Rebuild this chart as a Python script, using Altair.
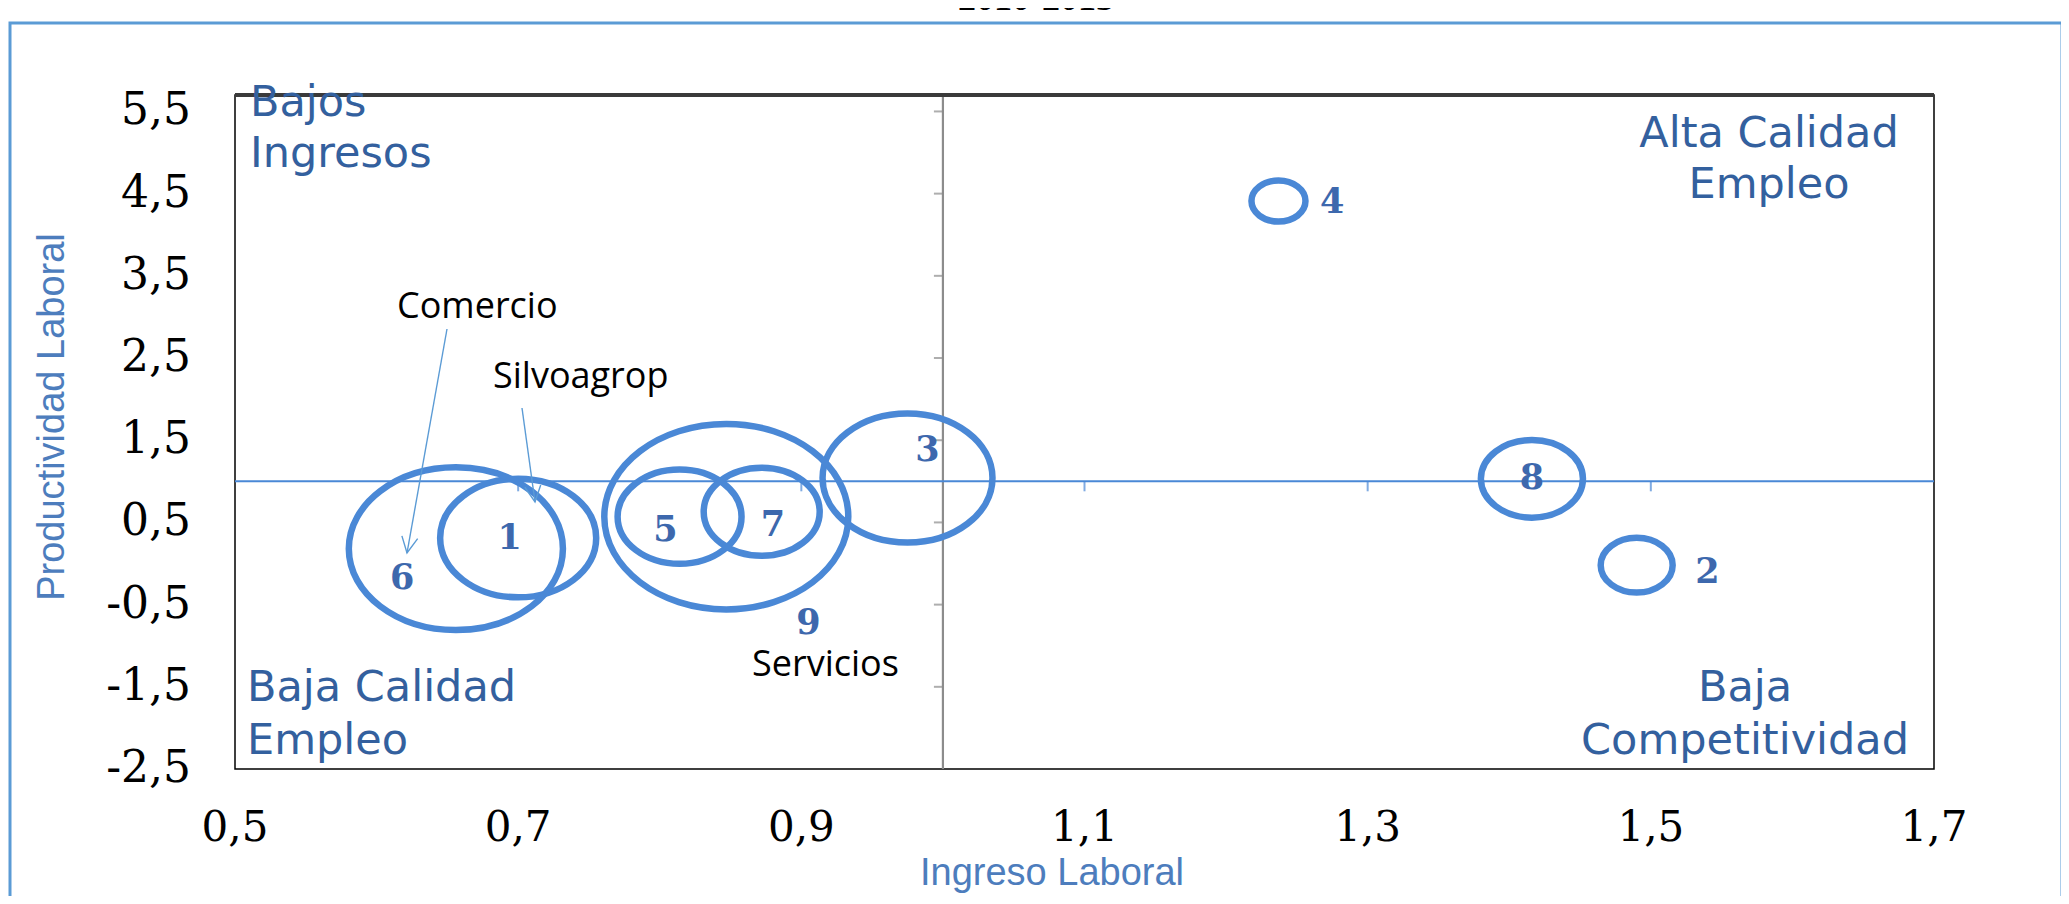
import altair as alt
import pandas as pd

# ---- data ----
sector = ["1", "2", "3", "4", "5", "6", "7", "8", "9"]
ingreso = [0.700, 1.490, 0.975, 1.237, 0.814, 0.656, 0.872, 1.416, 0.847]
productividad = [0.31, -0.02, 1.04, 4.41, 0.57, 0.18, 0.63, 1.03, 0.57]
tamano = [40.9, 8.7, 48.5, 4.9, 25.8, 77.0, 22.6, 17.5, 100.0]
etiqueta_x = [0.694, 1.540, 0.989, 1.275, 0.804, 0.618, 0.880, 1.416, 0.905]
etiqueta_y = [0.31, -0.10, 1.38, 4.40, 0.41, -0.18, 0.47, 1.04, -0.72]

x_ticks = [0.5, 0.7, 0.9, 1.1, 1.3, 1.5, 1.7]
y_ticks = [-2.5, -1.5, -0.5, 0.5, 1.5, 2.5, 3.5, 4.5, 5.5]
x_minor = [0.7, 0.9, 1.1, 1.3, 1.5]
y_minor = [-1.5, -0.5, 0.5, 1.5, 2.5, 3.5, 4.5, 5.5]
cruce = 1.0

df = pd.DataFrame({
    "sector": sector, "ingreso": ingreso, "productividad": productividad,
    "tamano": tamano, "lx": etiqueta_x, "ly": etiqueta_y,
})
df_xl = pd.DataFrame({"v": x_ticks, "lab": [str(v).replace(".", ",") for v in x_ticks]})
df_yl = pd.DataFrame({"v": y_ticks, "lab": [str(v).replace(".", ",") for v in y_ticks]})
df_vt = pd.DataFrame({"t": y_minor, "c": [cruce] * len(y_minor)})
df_ht = pd.DataFrame({"t": x_minor, "c": [cruce] * len(x_minor)})
df_c = pd.DataFrame({"v": [cruce]})

BLUE = "#4A88D6"
LBLUE = "#5B9BD5"
NUMC = "#3D68AD"
QC = "#33609E"
TITC = "#4D7DBD"

W, H = 1699, 674
ELLIPSE = ("M -1 0 C -1 -0.42 -0.552 -0.76 0 -0.76 C 0.552 -0.76 1 -0.42 1 0 "
           "C 1 0.42 0.552 0.76 0 0.76 C -0.552 0.76 -1 0.42 -1 0 Z")
ARROW = "M -0.5 -1 L 0 0 L 0.5 -1"

xscale = alt.Scale(domain=[0.5, 1.7], nice=False, zero=False)
yscale = alt.Scale(domain=[-2.5, 5.7], nice=False, zero=False)

bubbles = alt.Chart(df).mark_point(
    shape=ELLIPSE, filled=False, strokeWidth=6.5, color=BLUE, opacity=1
).encode(
    x=alt.X("ingreso:Q", scale=xscale, axis=None),
    y=alt.Y("productividad:Q", scale=yscale, axis=None),
    size=alt.Size("tamano:Q", scale=alt.Scale(domain=[0, 100], range=[0, 59536]), legend=None),
)

numbers = alt.Chart(df).mark_text(
    font="DejaVu Serif", fontSize=35, fontWeight="bold", color=NUMC,
    align="center", baseline="middle"
).encode(
    x=alt.X("lx:Q", scale=xscale, axis=None),
    y=alt.Y("ly:Q", scale=yscale, axis=None),
    text="sector:N",
)

xlabels = alt.Chart(df_xl).mark_text(
    font="DejaVu Serif", fontSize=42, color="black", align="center", baseline="top"
).encode(x=alt.X("v:Q", scale=xscale, axis=None), y=alt.value(H + 39), text="lab:N")
ylabels = alt.Chart(df_yl).mark_text(
    font="DejaVu Serif", fontSize=44, color="black", align="right", baseline="middle"
).encode(x=alt.value(-44), y=alt.Y("v:Q", scale=yscale, axis=None), text="lab:N")

vline = alt.Chart(df_c).mark_rule(color="#8C8C8C", strokeWidth=2.2).encode(
    x=alt.X("v:Q", scale=xscale, axis=None))
hline = alt.Chart(df_c).mark_rule(color=BLUE, strokeWidth=2).encode(
    y=alt.Y("v:Q", scale=yscale, axis=None))

vticks = alt.Chart(df_vt).mark_tick(
    orient="horizontal", size=9, thickness=2, color="#8C8C8C", xOffset=-4.5
).encode(x=alt.X("c:Q", scale=xscale, axis=None), y=alt.Y("t:Q", scale=yscale, axis=None))
hticks = alt.Chart(df_ht).mark_tick(
    orient="vertical", size=10, thickness=2, color=BLUE, yOffset=5
).encode(x=alt.X("t:Q", scale=xscale, axis=None), y=alt.Y("c:Q", scale=yscale, axis=None))

one = pd.DataFrame({"_": [0]})


def txt(s, x, y, **kw):
    return alt.Chart(one).mark_text(text=s, **kw).encode(x=alt.value(x), y=alt.value(y))


qkw = dict(font="DejaVu Sans", fontSize=43, color=QC, baseline="alphabetic")
quad = [
    txt("Bajos", 15, 21, align="left", **qkw),
    txt("Ingresos", 15, 72, align="left", **qkw),
    txt("Alta Calidad", 1534, 52, align="center", **qkw),
    txt("Empleo", 1534, 103, align="center", **qkw),
    txt("Baja Calidad", 12, 606, align="left", **qkw),
    txt("Empleo", 12, 659, align="left", **qkw),
    txt("Baja", 1510, 606, align="center", **qkw),
    txt("Competitividad", 1510, 659, align="center", **qkw),
]

akw = dict(font="Open Sans", fontSize=36, color="black", baseline="alphabetic", align="left")
annot = [
    txt("Comercio", 162, 223, **akw),
    txt("Silvoagrop", 258, 293, **akw),
    txt("Servicios", 517, 581, **akw),
]


def seg(x1, y1, x2, y2):
    return alt.Chart(one).mark_rule(color=LBLUE, strokeWidth=1.4).encode(
        x=alt.value(x1), y=alt.value(y1), x2=alt.value(x2), y2=alt.value(y2))


def head(x, y, ang):
    return alt.Chart(one).mark_point(
        shape=ARROW, filled=False, strokeWidth=1.4, color=LBLUE, opacity=1,
        size=1024, angle=ang).encode(x=alt.value(x), y=alt.value(y))


arrows = [seg(212, 234, 172, 458), head(172, 458, 10),
          seg(287, 313, 300, 407), head(300, 407, 352)]

titles = [
    txt("Ingreso Laboral", 817, 790, font="Liberation Sans", fontSize=38, color=TITC,
        align="center", baseline="alphabetic"),
    txt("Productividad Laboral", -182, 322, font="Liberation Sans", fontSize=38, color=TITC,
        align="center", baseline="middle", angle=270),
    txt("2010-2013", 801, -85, font="Liberation Serif", fontSize=36, fontWeight="bold",
        color="black", align="center", baseline="alphabetic"),
]

frame = alt.Chart(one).mark_rect(fillOpacity=0, stroke=LBLUE, strokeWidth=3).encode(
    x=alt.value(-225), x2=alt.value(1827), y=alt.value(-72), y2=alt.value(840))
topline = alt.Chart(one).mark_rule(color="#3A3A3A", strokeWidth=4).encode(
    x=alt.value(0), x2=alt.value(W), y=alt.value(0))

chart = alt.layer(
    frame, vline, hline, vticks, hticks, bubbles, numbers, topline,
    xlabels, ylabels, *quad, *annot, *arrows, *titles
).properties(
    width=W, height=H,
    autosize=alt.AutoSizeParams(type="none"),
    padding={"left": 227, "top": 87, "right": 127, "bottom": 127},
    background="white",
).configure_view(stroke="black", strokeWidth=1.5)

chart.save("out.html", embed_options={"renderer": "svg", "actions": False})
